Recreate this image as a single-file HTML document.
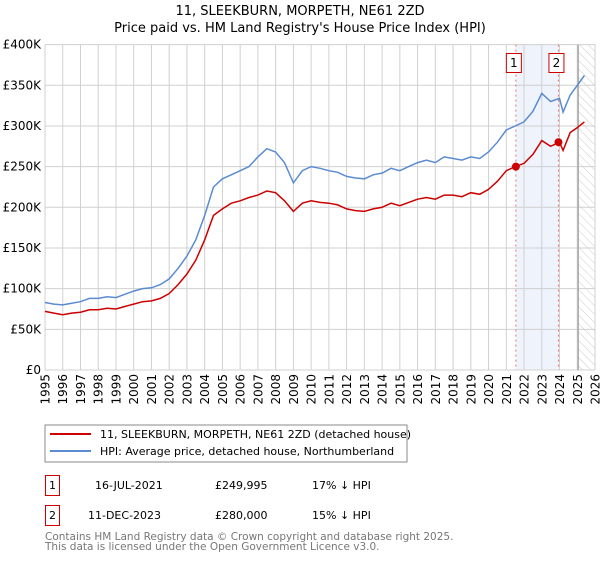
<!DOCTYPE html>
<html><head><meta charset="utf-8">
<style>
body{margin:0;background:#fff;font-family:"Liberation Sans","DejaVu Sans",sans-serif;}
svg text{font-family:"DejaVu Sans","Liberation Sans",sans-serif;}
</style></head>
<body>
<svg id="chart" width="600" height="560" xmlns="http://www.w3.org/2000/svg">
<defs>
<pattern id="hatch" width="6" height="6" patternUnits="userSpaceOnUse" patternTransform="rotate(-45)">
<line x1="0" y1="0" x2="0" y2="6" stroke="#ccc" stroke-width="1"/></pattern>
</defs>
<text x="300" y="15" text-anchor="middle" font-size="13">11, SLEEKBURN, MORPETH, NE61 2ZD</text>
<text x="300" y="32" text-anchor="middle" font-size="13">Price paid vs. HM Land Registry's House Price Index (HPI)</text>
<g id="grid"></g>
<g id="marks"></g>
<g id="axes"></g>
<rect x="45" y="425" width="362" height="37" fill="#fff" stroke="#888"/>
<line x1="50" y1="434" x2="91" y2="434" stroke="#cc0000" stroke-width="2"/>
<text x="100" y="438" font-size="11">11, SLEEKBURN, MORPETH, NE61 2ZD (detached house)</text>
<line x1="50" y1="451" x2="91" y2="451" stroke="#5b8bd0" stroke-width="2"/>
<text x="100" y="455" font-size="11">HPI: Average price, detached house, Northumberland</text>
<g font-size="11">
<rect x="45.5" y="475.5" width="14" height="20" fill="#fff" stroke="#cc0000"/>
<text x="52.5" y="489" text-anchor="middle">1</text>
<text x="95" y="489">16-JUL-2021</text>
<text x="215" y="489">£249,995</text>
<text x="312" y="489">17% ↓ HPI</text>
<rect x="45.5" y="505.5" width="14" height="20" fill="#fff" stroke="#cc0000"/>
<text x="52.5" y="519" text-anchor="middle">2</text>
<text x="88" y="519">11-DEC-2023</text>
<text x="215" y="519">£280,000</text>
<text x="312" y="519">15% ↓ HPI</text>
</g>
<text x="45" y="540" font-size="10.5" fill="#777">Contains HM Land Registry data © Crown copyright and database right 2025.</text>
<text x="45" y="550" font-size="10.5" fill="#777">This data is licensed under the Open Government Licence v3.0.</text>
</svg>
<script>
const dates=[1995,1995.5,1996,1996.5,1997,1997.5,1998,1998.5,1999,1999.5,2000,2000.5,2001,2001.5,2002,2002.5,2003,2003.5,2004,2004.5,2005,2005.5,2006,2006.5,2007,2007.5,2008,2008.5,2009,2009.5,2010,2010.5,2011,2011.5,2012,2012.5,2013,2013.5,2014,2014.5,2015,2015.5,2016,2016.5,2017,2017.5,2018,2018.5,2019,2019.5,2020,2020.5,2021,2021.5,2022,2022.5,2023,2023.5,2024,2024.2,2024.6,2025.0,2025.4];
const hpiValues=[83,81,80,82,84,88,88,90,89,93,97,100,101,105,112,125,140,160,190,225,235,240,245,250,262,272,268,255,230,245,250,248,245,243,238,236,235,240,242,248,245,250,255,258,255,262,260,258,262,260,268,280,295,300,305,318,340,330,334,317,338,350,362];
const priceValues=[72,70,68,70,71,74,74,76,75,78,81,84,85,88,94,105,118,135,160,190,198,205,208,212,215,220,218,208,195,205,208,206,205,203,198,196,195,198,200,205,202,206,210,212,210,215,215,213,218,216,222,232,245,250,254,265,282,275,280,270,292,298,305];
const saleDates=[2021.54,2023.94];
const salePrices=[249.995,280];
const saleLabels=["1","2"];
const yTicks=[0,50,100,150,200,250,300,350,400];
const yTickLabels=["£0","£50K","£100K","£150K","£200K","£250K","£300K","£350K","£400K"];
const xTicks=[1995,1996,1997,1998,1999,2000,2001,2002,2003,2004,2005,2006,2007,2008,2009,2010,2011,2012,2013,2014,2015,2016,2017,2018,2019,2020,2021,2022,2023,2024,2025,2026];

const X0=45,X1=595,Y0=370,Y1=44.6;
const xs=d=>X0+(d-1995)/(2026-1995)*(X1-X0);
const ys=v=>Y0-v/400*(Y0-Y1);
const NS="http://www.w3.org/2000/svg";
function mk(tag,attrs,parent){const e=document.createElementNS(NS,tag);for(const k in attrs)e.setAttribute(k,attrs[k]);parent.appendChild(e);return e;}
const grid=document.getElementById('grid'),marks=document.getElementById('marks'),axes=document.getElementById('axes');
let sh=mk('rect',{x:xs(saleDates[0]),y:Y1,width:xs(saleDates[1])-xs(saleDates[0]),height:Y0-Y1,fill:'#eef3fc'},grid);


let ht=mk('rect',{x:xs(2025.05),y:Y1,width:X1-xs(2025.05),height:Y0-Y1,fill:'url(#hatch)'},grid);


yTicks.forEach((t,i)=>{
 const l=mk('line',{x1:X0,x2:X1,y1:ys(t),y2:ys(t),stroke:'#d0d0d0','stroke-width':1},grid);
 
 
 const tx=mk('text',{x:X0-4,y:ys(t)+4,'text-anchor':'end','font-size':12},axes);
 tx.textContent=yTickLabels[i];
 
 
});
xTicks.forEach(t=>{
 const l=mk('line',{x1:xs(t),x2:xs(t),y1:Y1,y2:Y0,stroke:'#d0d0d0','stroke-width':1},grid);
 
 
 const px=xs(t)+4.5, py=Y0+4;
 const tx=mk('text',{x:px,y:py,'text-anchor':'end','font-size':12,transform:`rotate(-90 ${px} ${py})`},axes);
 tx.textContent=t;
 
 
});
mk('line',{x1:xs(2025.05),x2:xs(2025.05),y1:Y1,y2:Y0,stroke:'#999','stroke-width':1.2},grid);
saleDates.forEach((d,i)=>{
 const l=mk('line',{x1:xs(d),x2:xs(d),y1:Y1,y2:Y0,stroke:'#f07070','stroke-width':1,'stroke-dasharray':'2,3'},grid);
 
 
 const b=mk('rect',{x:xs(d)-9.5,y:53.5,width:15,height:19,fill:'#fff',stroke:'#cc0000'},axes);
 
 
 const t=mk('text',{x:xs(d)-2,y:67,'text-anchor':'middle','font-size':12},axes);
 t.textContent=saleLabels[i];
 
 
});
function path(vals){return vals.map((v,i)=>(i?'L':'M')+xs(dates[i]).toFixed(1)+','+ys(v).toFixed(1)).join('');}
const hp=mk('path',{d:path(hpiValues),fill:'none',stroke:'#5b8bd0','stroke-width':1.5},marks);


const pp=mk('path',{d:path(priceValues),fill:'none',stroke:'#cc0000','stroke-width':1.5},marks);


saleDates.forEach((d,i)=>{
 const c=mk('circle',{cx:xs(d),cy:ys(salePrices[i]),r:4,fill:'#cc0000'},marks);
 
 
});
</script>
</body></html>
